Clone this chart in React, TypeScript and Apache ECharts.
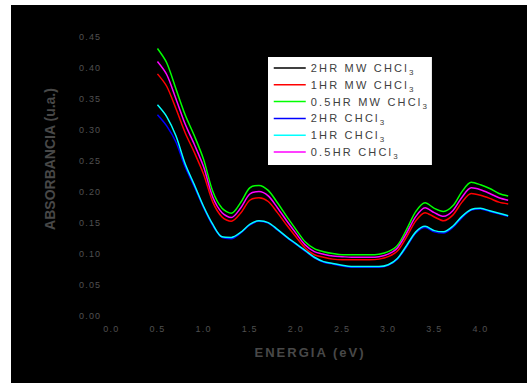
import React, { useEffect, useRef } from 'react';
import * as echarts from 'echarts';

const energy = [0.5, 0.6, 0.7, 0.8, 0.9, 1.0, 1.1, 1.2, 1.3, 1.4, 1.5, 1.6, 1.7, 1.8, 1.9, 2.0, 2.1, 2.2, 2.3, 2.4, 2.5, 2.6, 2.7, 2.8, 2.9, 3.0, 3.1, 3.2, 3.3, 3.4, 3.5, 3.6, 3.7, 3.8, 3.9, 4.0, 4.1, 4.2, 4.3];

const mw2hr = [0.400, 0.380, 0.342, 0.302, 0.270, 0.234, 0.187, 0.162, 0.155, 0.169,
  0.191, 0.195, 0.188, 0.170, 0.150, 0.130, 0.111, 0.100, 0.096, 0.093,
  0.092, 0.092, 0.092, 0.092, 0.093, 0.097, 0.106, 0.130, 0.156, 0.170,
  0.162, 0.156, 0.165, 0.187, 0.201, 0.198, 0.193, 0.186, 0.183];
const mw1hr = [0.390, 0.370, 0.334, 0.295, 0.263, 0.228, 0.183, 0.159, 0.152, 0.165,
  0.186, 0.190, 0.184, 0.166, 0.146, 0.127, 0.109, 0.098, 0.094, 0.091,
  0.090, 0.090, 0.090, 0.090, 0.091, 0.095, 0.104, 0.127, 0.153, 0.166,
  0.159, 0.153, 0.162, 0.183, 0.197, 0.194, 0.189, 0.183, 0.180];
const mw05hr = [0.431, 0.408, 0.366, 0.324, 0.290, 0.252, 0.200, 0.173, 0.165, 0.182,
  0.206, 0.210, 0.202, 0.182, 0.160, 0.139, 0.119, 0.108, 0.103, 0.100,
  0.098, 0.098, 0.098, 0.098, 0.099, 0.103, 0.113, 0.139, 0.168, 0.182,
  0.173, 0.168, 0.177, 0.200, 0.215, 0.211, 0.205, 0.197, 0.193];
const ch2hr = [0.324, 0.306, 0.280, 0.240, 0.208, 0.174, 0.145, 0.126, 0.124, 0.133,
  0.146, 0.152, 0.149, 0.138, 0.126, 0.115, 0.104, 0.093, 0.086, 0.083,
  0.080, 0.078, 0.078, 0.078, 0.078, 0.081, 0.091, 0.111, 0.133, 0.142,
  0.135, 0.133, 0.142, 0.158, 0.170, 0.172, 0.168, 0.164, 0.160];
const ch1hr = [0.340, 0.321, 0.290, 0.245, 0.211, 0.176, 0.147, 0.127, 0.126, 0.134,
  0.147, 0.153, 0.150, 0.139, 0.127, 0.116, 0.105, 0.094, 0.087, 0.084,
  0.081, 0.079, 0.079, 0.079, 0.079, 0.082, 0.092, 0.113, 0.135, 0.144,
  0.137, 0.135, 0.144, 0.160, 0.171, 0.173, 0.169, 0.165, 0.161];
const ch05hr = [0.410, 0.389, 0.350, 0.309, 0.276, 0.240, 0.191, 0.166, 0.158, 0.173,
  0.196, 0.200, 0.193, 0.174, 0.153, 0.133, 0.114, 0.103, 0.099, 0.096,
  0.095, 0.094, 0.094, 0.094, 0.095, 0.099, 0.109, 0.133, 0.160, 0.174,
  0.166, 0.160, 0.169, 0.191, 0.206, 0.203, 0.197, 0.190, 0.186];

const seriesNames = ['2HR MW CHCl3', '1HR MW CHCl3', '0.5HR MW CHCl3', '2HR CHCl3', '1HR CHCl3', '0.5HR CHCl3'];
const seriesColors = ['#000000', '#ff0000', '#00ff00', '#0000ff', '#00ffff', '#ff00ff'];
const seriesData = [mw2hr, mw1hr, mw05hr, ch2hr, ch1hr, ch05hr];

const yTitle = 'ABSORBANCIA (u.a.)';
const xTitle = 'ENERGIA (eV)';

const FONT = '"Liberation Sans", Arial, sans-serif';
const LEG_LS = 2.2;
const TICK_LS = 1.2;
const XT_LS = 2;

export default function App() {
  const ref = useRef<HTMLDivElement>(null);
  useEffect(() => {
    document.body.style.margin = '0';
    const el = ref.current!;
    const chart = echarts.init(el, null, { renderer: 'svg' });

    const mains = seriesNames.map((n) => n.slice(0, -1));
    const rich: Record<string, any> = {
      t: { fontSize: 11, lineHeight: 17, color: '#404040', fontFamily: FONT },
    };
    mains.forEach((m) => {
      rich['s' + m.length] = {
        fontSize: 8, lineHeight: 8, verticalAlign: 'bottom', color: '#404040', fontFamily: FONT,
        padding: [0, 0, 0, m.length * LEG_LS],
      };
    });

    const option: any = {
      animation: false,
      backgroundColor: '#ffffff',
      grid: { left: 111.3, right: 10.6, top: 36.7, bottom: 67.5, containLabel: false },
      xAxis: {
        type: 'value', min: 0, max: 4.4, interval: 0.5,
        axisLine: { show: false }, axisTick: { show: false }, splitLine: { show: false },
        axisLabel: {
          color: '#505050', fontSize: 9, fontFamily: FONT, margin: 9, showMaxLabel: false,
          formatter: (v: number) => v.toFixed(1),
        },
      },
      yAxis: {
        type: 'value', min: 0, max: 0.45, interval: 0.05,
        axisLine: { show: false }, axisTick: { show: false }, splitLine: { show: false },
        axisLabel: {
          color: '#505050', fontSize: 9, fontFamily: FONT, margin: 10,
          formatter: (v: number) => v.toFixed(2),
        },
      },
      legend: {
        orient: 'vertical', left: 268, top: 57,
        padding: [5.5, 5, 4.5, 5],
        backgroundColor: '#ffffff', borderWidth: 0,
        itemWidth: 32, itemHeight: 10, itemGap: 2.8,
        itemStyle: { opacity: 0 },
        lineStyle: { width: 1.5 },
        data: seriesNames,
        formatter: (name: string) => {
          const m = name.slice(0, -1);
          return `{t|${m}}{s${m.length}|3}`;
        },
        textStyle: { rich, padding: [0, 0, 0, 0] },
        z: 10,
      },
      graphic: {
        elements: [
          { type: 'rect', z: -10, silent: true, shape: { x: 11, y: 5, width: 516, height: 378 }, style: { fill: '#000000' } },
          {
            type: 'text', z: 5, x: 50, y: 159, rotation: Math.PI / 2,
            style: { text: yTitle, fill: '#484848', font: `bold 14px ${FONT}`, align: 'center', verticalAlign: 'middle', textAlign: 'center', textVerticalAlign: 'middle' },
          },
          {
            type: 'text', z: 5, x: 310, y: 352,
            style: { text: xTitle, fill: '#484848', font: `bold 13px ${FONT}`, align: 'center', verticalAlign: 'middle', textAlign: 'center', textVerticalAlign: 'middle' },
          },
        ],
      },
      series: seriesNames.map((name, i) => ({
        name, type: 'line', symbol: 'none', showSymbol: false, smooth: 0.3,
        data: energy.map((e, j) => [e, seriesData[i][j]]),
        lineStyle: { color: seriesColors[i], width: 1.5 },
        itemStyle: { color: seriesColors[i] },
      })),
    };
    chart.setOption(option);

    const spacing: Record<string, number> = {};
    mains.forEach((m) => { spacing[m] = LEG_LS; });
    for (let k = 0; k <= 9; k++) spacing[(k * 0.05).toFixed(2)] = TICK_LS;
    for (let k = 0; k <= 8; k++) spacing[(k * 0.5).toFixed(1)] = TICK_LS;
    spacing[xTitle] = XT_LS;

    const apply = () => {
      el.querySelectorAll('text').forEach((t) => {
        const s = t.textContent || '';
        if (spacing[s] !== undefined) t.setAttribute('letter-spacing', String(spacing[s]));
      });
    };
    apply();
    chart.on('rendered', apply);
    const raf = requestAnimationFrame(apply);
    return () => { cancelAnimationFrame(raf); chart.dispose(); };
  }, []);
  return <div ref={ref} style={{ position: 'absolute', left: 0, top: 0, width: 528, height: 383 }} />;
}
